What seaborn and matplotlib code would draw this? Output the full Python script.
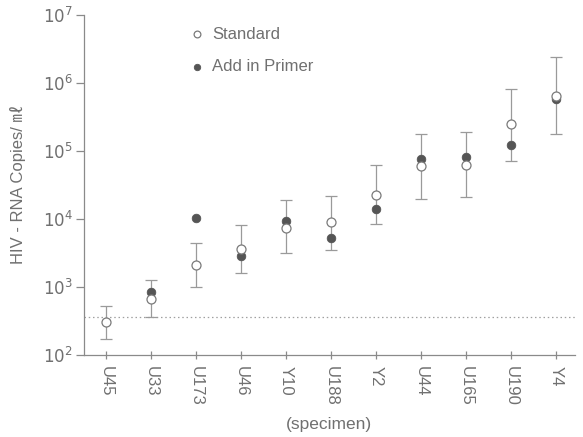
import matplotlib
matplotlib.use("Agg")
import matplotlib.pyplot as plt
import matplotlib.ticker as mticker
import numpy as np
import pandas as pd
import seaborn as sns

# Specimens and viral load (copies/mL)
specimens = ["U45", "U33", "U173", "U46", "Y10", "U188", "Y2", "U44", "U165", "U190", "Y4"]
standard = [300, 660, 2100, 3550, 7300, 8900, 22500, 59000, 62000, 245000, 630000]
add_in_primer = [np.nan, 850, 10200, 2800, 9400, 5300, 14000, 75000, 80000, 121000, 575000]
err_low = [170, 360, 1000, 1620, 3150, 3500, 8400, 19600, 21000, 72000, 178000]
err_high = [515, 1260, 4450, 8100, 18700, 21500, 62000, 177000, 190000, 810000, 2400000]
detection_limit = 365

sns.set_theme(style="white")
plt.rcParams["font.family"] = ["Liberation Sans", "Noto Sans CJK JP", "DejaVu Sans"]

grey = "#8a8a8a"
text_grey = "#707070"

fig = plt.figure(figsize=(5.83, 4.37), dpi=100)
ax = fig.add_axes([0.144, 0.188, 0.842, 0.778])

xpos = np.arange(len(specimens))
df_std = pd.DataFrame({"pos": xpos, "copies": standard})
df_add = pd.DataFrame({"pos": xpos, "copies": add_in_primer}).dropna()

std = np.array(standard, dtype=float)
yerr = np.vstack([std - np.array(err_low), np.array(err_high) - std])
ax.errorbar(xpos, std, yerr=yerr, fmt="none", ecolor="#9a9a9a",
            elinewidth=0.9, capsize=4, capthick=0.9, zorder=1)

ax.axhline(detection_limit, color="#a0a0a0", linestyle=(0, (1.2, 2.2)),
           linewidth=0.9, zorder=0)

sns.scatterplot(data=df_std, x="pos", y="copies", ax=ax, marker="o",
                s=42, color="white", edgecolor="#7a7a7a", linewidth=0.9,
                label="Standard", zorder=4)
sns.scatterplot(data=df_add, x="pos", y="copies", ax=ax, marker="o",
                s=38, color="#555555", edgecolor="#555555", linewidth=0.6,
                label="Add in Primer", zorder=3)

ax.set_yscale("log")
ax.set_ylim(1e2, 1e7)
ax.set_xlim(-0.5, 10.42)
ax.yaxis.set_major_locator(mticker.LogLocator(base=10, numticks=10))
ax.yaxis.set_minor_locator(mticker.NullLocator())
ax.yaxis.set_major_formatter(mticker.FuncFormatter(lambda v, p: r"$10^{%d}$" % round(np.log10(v))))

ax.set_xticks(xpos)
ax.set_xticklabels(specimens, rotation=-90, fontsize=12, color=text_grey)
for lab in ax.get_yticklabels():
    lab.set_fontsize(12)
    lab.set_color(text_grey)

for side in ["top", "right"]:
    ax.spines[side].set_visible(False)
for side in ["left", "bottom"]:
    ax.spines[side].set_color(grey)
    ax.spines[side].set_linewidth(0.9)

ax.tick_params(axis="y", which="major", direction="out", length=6, width=0.9,
               color=grey, pad=2, left=True)
ax.tick_params(axis="x", which="major", direction="inout", length=6, width=0.9,
               color=grey, pad=5, bottom=True)

ax.set_xlabel("(specimen)", fontsize=12.5, color=text_grey, labelpad=8)
ax.set_ylabel("HIV - RNA Copies/ ㎖", fontsize=12, color=text_grey, labelpad=12)

handles, labels = ax.get_legend_handles_labels()
leg = ax.legend(handles, labels,
                loc="upper left", bbox_to_anchor=(0.183, 0.985), frameon=False,
                fontsize=12, handletextpad=-0.1, labelspacing=1.05,
                markerscale=0.75, borderaxespad=0)
for t in leg.get_texts():
    t.set_color(text_grey)

fig.savefig("out.png", dpi=100, facecolor="white")
